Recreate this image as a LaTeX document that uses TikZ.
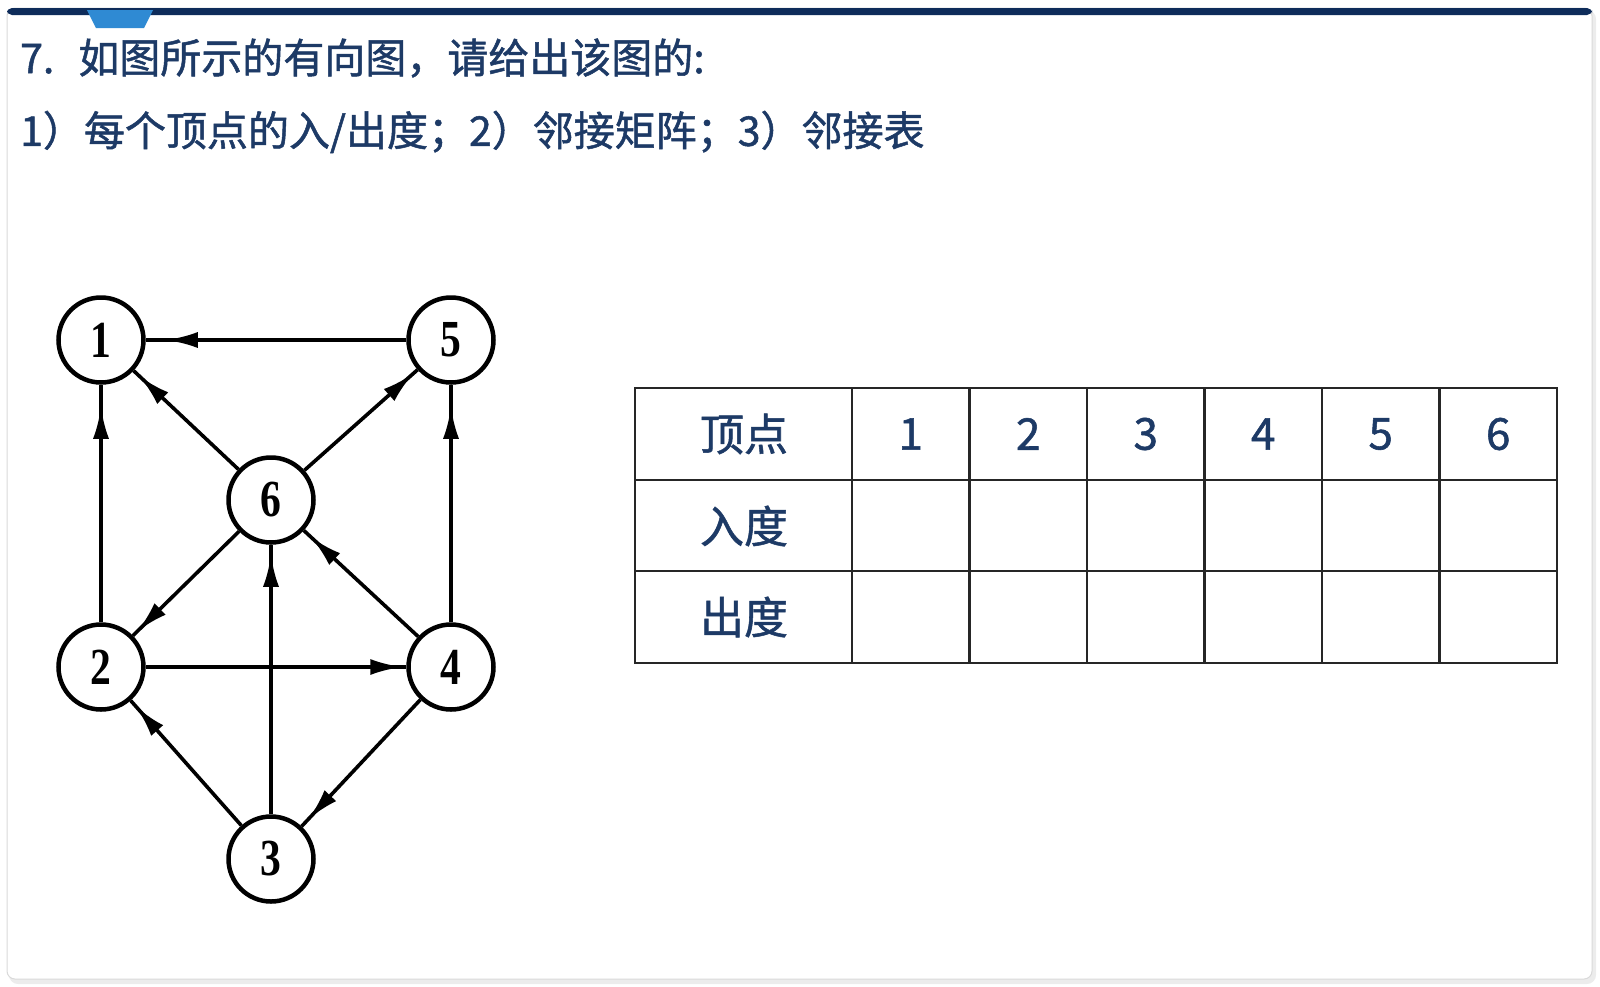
\documentclass[tikz,border=0pt]{standalone}
\usepackage{fontspec}
\newfontfamily\cjk[FakeBold=1.2]{Noto Sans CJK SC}
\newfontfamily\vfont[FakeStretch=0.8]{Liberation Serif}
\usetikzlibrary{arrows.meta,decorations.markings}
\definecolor{ink}{HTML}{1D3A66}
\definecolor{barblue}{HTML}{0E2C5A}
\definecolor{tabblue}{HTML}{2F8AD3}

\begin{document}
\begin{tikzpicture}[x=1pt,y=-1pt,
	vert/.style={circle,draw,line width=4.5pt,minimum size=85pt,inner sep=0pt,font=\vfont\bfseries\fontsize{52}{52}\selectfont},
	edge/.style={line width=3.6pt,postaction={decorate},decoration={markings,mark=at position -#1 with {\arrow{Latex[length=32pt,width=16pt]}}}},
	cell/.style={font=\cjk\fontsize{44}{44}\selectfont,text=ink,inner sep=0pt},
	title/.style={anchor=west,font=\cjk\fontsize{41}{41}\selectfont,text=ink,inner sep=0pt}]
	\useasboundingbox (0,0) rectangle (1600,986);
	\fill[gray!15,rounded corners=9pt] (9,10) rectangle (1596,984);
	\filldraw[fill=white,draw=gray!30,line width=1pt,rounded corners=8pt] (7,8) rectangle (1592,979);
	\fill[barblue,rounded corners=5pt] (7,8) rectangle (1592,15);
	\fill[tabblue] (87,10)--(153,10)--(144,28)--(96,28)--cycle;
	\node[title] (q1) at (20,58) {7.\hspace{24pt}如图所示的有向图，请给出该图的:};
	\node[title] (q2) at (20,132) {1）每个顶点的入/出度；2）邻接矩阵；3）邻接表};

	\node[vert] (n1) at (101,340) {1};
	\node[vert] (n5) at (451,340) {5};
	\node[vert] (n6) at (271,500) {6};
	\node[vert] (n2) at (101,667) {2};
	\node[vert] (n4) at (451,667) {4};
	\node[vert] (n3) at (271,859) {3};
	\draw[edge=20pt] (n5)--(n1);
	\draw[edge=8pt] (n6)--(n1);
	\draw[edge=22pt] (n2)--(n1);
	\draw[edge=6pt] (n6)--(n5);
	\draw[edge=22pt] (n4)--(n5);
	\draw[edge=6pt] (n6)--(n2);
	\draw[edge=10pt] (n4)--(n6);
	\draw[edge=10pt] (n3)--(n6);
	\draw[edge=4pt] (n2)--(n4);
	\draw[edge=8pt] (n3)--(n2);
	\draw[edge=10pt] (n4)--(n3);

	\draw[line width=2.4pt,black!85] (635,388) rectangle (1557,663);
	\draw[line width=2.4pt,black!85] (635,480)--(1557,480) (635,571)--(1557,571) (852,388)--(852,663);
	\foreach \i in {1,...,5}
		\draw[line width=2.4pt,black!85] ({852+117.5*\i},388)--({852+117.5*\i},663);
	\node[cell] (v0) at (744,434) {顶点};
	\node[cell] (din) at (744,526) {入度};
	\node[cell] (dout) at (744,617) {出度};
	\foreach \i in {1,...,6}
		\node[cell] (v\i) at ({852+117.5*(\i-0.5)},434) {\i};
\end{tikzpicture}
\end{document}
